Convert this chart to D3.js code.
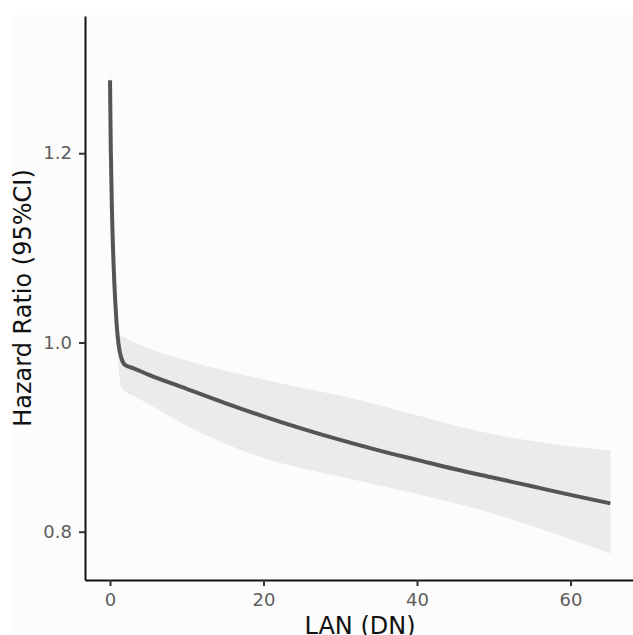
<!DOCTYPE html>
<html lang="en">
<head>
    <meta charset="UTF-8">
    <title>Hazard Ratio by LAN</title>
    <script src="https://d3js.org/d3.v7.min.js"></script>
    <style>
        body {
            margin: 0;
            background: #ffffff;
        }
    </style>
</head>
<body>

<div id="chart"></div>

<script>
    // LAN values (DN) and fitted hazard ratio with 95% CI
    const lan = [0, 0.1, 0.25, 0.5, 0.75, 1.0, 1.25, 1.5, 2, 3, 5, 10, 15, 20, 25, 30, 35, 40, 45, 50, 55, 60, 65.2];
    const hr = [1.277, 1.205, 1.14, 1.075, 1.034, 1.006, 0.991, 0.983, 0.976, 0.973, 0.966, 0.951, 0.936, 0.922, 0.909, 0.897, 0.886, 0.876, 0.866, 0.857, 0.848, 0.839, 0.830];
    const ciUpper = [1.32, 1.25, 1.17, 1.095, 1.05, 1.02, 1.01, 1.007, 1.005, 1.001, 0.994, 0.981, 0.970, 0.961, 0.952, 0.944, 0.934, 0.923, 0.912, 0.903, 0.896, 0.890, 0.886];
    const ciLower = [1.235, 1.165, 1.10, 1.04, 1.005, 0.99, 0.962, 0.952, 0.948, 0.944, 0.935, 0.912, 0.893, 0.878, 0.867, 0.858, 0.849, 0.840, 0.830, 0.819, 0.806, 0.792, 0.777];

    const xTicks = [0, 20, 40, 60];
    const yTicks = [0.8, 1.0, 1.2];

    const width = 633;
    const height = 635;

    const data = lan.map((v, i) => ({ x: v, y: hr[i], lo: ciLower[i], hi: ciUpper[i] }));

    const svg = d3.select("#chart")
        .append("svg")
        .attr("width", width)
        .attr("height", height)
        .style("font-family", "'DejaVu Sans', sans-serif");

    // faint off-white plot background like the source image
    svg.append("rect")
        .attr("x", 12)
        .attr("y", 15)
        .attr("width", width - 12)
        .attr("height", height - 15)
        .attr("fill", "#fcfcfc");

    const x = d3.scaleLinear()
        .domain([-3.26, 68.46])
        .range([85, 635.4]);

    const y = d3.scaleLinear()
        .domain([0.749, 1.345])
        .range([580, 16]);

    // confidence ribbon
    const area = d3.area()
        .x(d => x(d.x))
        .y0(d => y(d.lo))
        .y1(d => y(d.hi))
        .curve(d3.curveMonotoneX);

    svg.append("path")
        .datum(data)
        .attr("d", area)
        .attr("fill", "#ebebeb");

    // fitted curve
    const line = d3.line()
        .x(d => x(d.x))
        .y(d => y(d.y))
        .curve(d3.curveMonotoneX);

    svg.append("path")
        .datum(data)
        .attr("d", line)
        .attr("fill", "none")
        .attr("stroke", "#555555")
        .attr("stroke-width", 4);

    // axes
    const xAxis = svg.append("g")
        .attr("transform", "translate(0,580)")
        .call(d3.axisBottom(x)
            .tickValues(xTicks)
            .tickFormat(d3.format("d"))
            .tickSize(6)
            .tickSizeOuter(0)
            .tickPadding(7));

    const yAxis = svg.append("g")
        .attr("transform", "translate(85,0)")
        .call(d3.axisLeft(y)
            .tickValues(yTicks)
            .tickFormat(d3.format(".1f"))
            .tickSize(6)
            .tickSizeOuter(0)
            .tickPadding(7));

    [xAxis, yAxis].forEach(g => {
        g.attr("font-family", null).attr("font-size", null);
        g.select(".domain").attr("stroke", "#111111").attr("stroke-width", 2);
        g.selectAll(".tick line").attr("stroke", "#333333").attr("stroke-width", 2);
        g.selectAll(".tick text")
            .attr("fill", "#5e5e5e")
            .attr("font-size", "18px");
    });

    // axis titles
    svg.append("text")
        .attr("x", 360)
        .attr("y", 634)
        .attr("text-anchor", "middle")
        .attr("font-size", "24px")
        .attr("fill", "#111111")
        .text("LAN (DN)");

    svg.append("text")
        .attr("transform", "translate(31,298) rotate(-90)")
        .attr("text-anchor", "middle")
        .attr("font-size", "24px")
        .attr("fill", "#111111")
        .text("Hazard Ratio (95%CI)");
</script>

</body>
</html>
